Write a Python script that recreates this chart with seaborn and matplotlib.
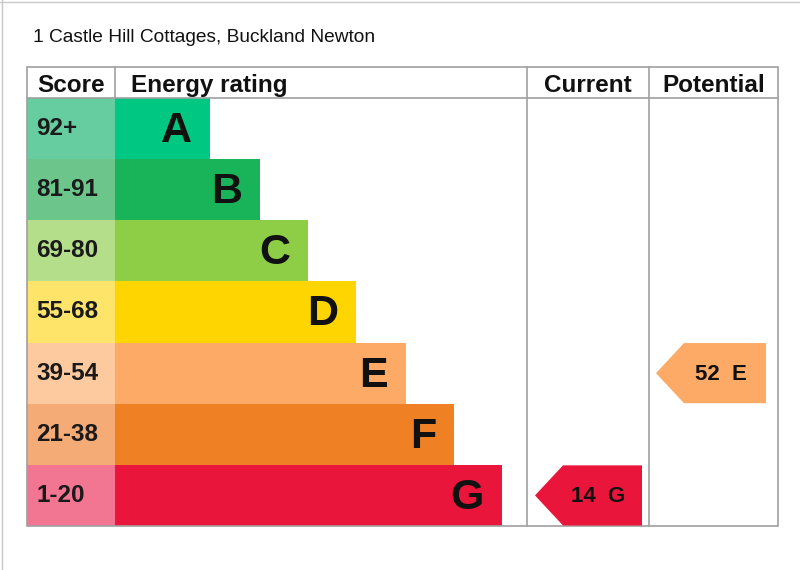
import matplotlib
matplotlib.use("Agg")
import matplotlib.pyplot as plt
from matplotlib.patches import Polygon, Rectangle
import seaborn as sns
import pandas as pd

sns.set_theme(style="white")
plt.rcParams['font.family'] = ['Liberation Sans', 'DejaVu Sans']

title = "1 Castle Hill Cottages, Buckland Newton"
letters = ["A", "B", "C", "D", "E", "F", "G"]
score_labels = ["92+", "81-91", "69-80", "55-68", "39-54", "21-38", "1-20"]
band_low = [92, 81, 69, 55, 39, 21, 1]
bar_lengths = [95, 145, 193, 241, 291, 339, 387]
bar_colors = ["#00c781", "#19b459", "#8dce46", "#ffd500", "#fcaa65", "#ef8023", "#e9153b"]
score_colors = ["#66cda0", "#6cc68c", "#b5de8a", "#ffe46a", "#fdc99e", "#f5ab75", "#f27591"]
current_score = 14
potential_score = 52

W, H = 800, 570
L, R = 27, 778
T, HB, B = 67, 98, 526
SC, BR, CUR = 115, 527, 649

fig = plt.figure(figsize=(8, 5.7), dpi=100)

def px_axes(x0, y0, x1, y1):
    return fig.add_axes([x0 / W, (H - y1) / H, (x1 - x0) / W, (y1 - y0) / H])

df = pd.DataFrame({"letter": letters, "score": score_labels, "length": bar_lengths})

# score column
ax_s = px_axes(L, HB, SC, B)
sns.barplot(data=df, x=[SC - L] * len(letters), y="letter", hue="letter",
            palette=score_colors, saturation=1, width=1.0, legend=False, ax=ax_s, linewidth=0)
ax_s.set_xlim(0, SC - L)
ax_s.set_ylim(6.5, -0.5)
ax_s.axis("off")
for i, s in enumerate(score_labels):
    ax_s.text(9, i, s, ha="left", va="center", fontsize=17.5, fontweight="bold", color="#1a1a1a")

# bars
ax_b = px_axes(SC, HB, BR, B)
sns.barplot(data=df, x="length", y="letter", hue="letter",
            palette=bar_colors, saturation=1, width=1.0, legend=False, ax=ax_b, linewidth=0)
ax_b.set_xlim(0, BR - SC)
ax_b.set_ylim(6.5, -0.5)
ax_b.axis("off")
for i, (l, v) in enumerate(zip(letters, bar_lengths)):
    ax_b.text(v - 18, i + 0.04, l, ha="right", va="center", fontsize=31, fontweight="bold", color="#111111")

# overlay for frame, header, arrows
ax = fig.add_axes([0, 0, 1, 1], facecolor="none")
ax.set_xlim(0, W)
ax.set_ylim(H, 0)
ax.axis("off")

gc = "#a0a0a0"
ax.plot([1.5, 1.5], [0, H], color="#c8c8c8", lw=1)
ax.plot([0, W], [1.5, 1.5], color="#c8c8c8", lw=1)
ax.add_patch(Rectangle((L, T), R - L, B - T, fill=False, edgecolor=gc, lw=1.2))
ax.plot([L, R], [HB, HB], color=gc, lw=1.2)
ax.plot([SC, SC], [T, HB], color=gc, lw=1.2)
ax.plot([BR, BR], [T, B], color=gc, lw=1.2)
ax.plot([CUR, CUR], [T, B], color=gc, lw=1.2)

ax.text(33, 42, title, ha="left", va="baseline", fontsize=13.8, color="#111111")
hy = 92
hs = 17.5
ax.text(37, hy, "Score", ha="left", va="baseline", fontsize=hs, fontweight="bold", color="#111111")
ax.text(131, hy, "Energy rating", ha="left", va="baseline", fontsize=hs, fontweight="bold", color="#111111")
ax.text((BR + CUR) / 2, hy, "Current", ha="center", va="baseline", fontsize=hs, fontweight="bold", color="#111111")
ax.text((CUR + R) / 2, hy, "Potential", ha="center", va="baseline", fontsize=hs, fontweight="bold", color="#111111")

row_h = (B - HB) / len(letters)

def band_index(v):
    for i, lo in enumerate(band_low):
        if v >= lo:
            return i
    return len(band_low) - 1

def arrow(value, x0, x1):
    i = band_index(value)
    y0 = HB + i * row_h + 0.5
    y1 = HB + (i + 1) * row_h - 0.5
    ym = (y0 + y1) / 2
    tip = 28
    poly = Polygon([(x0, ym), (x0 + tip, y0), (x1, y0), (x1, y1), (x0 + tip, y1)],
                   closed=True, facecolor=bar_colors[i], edgecolor="none")
    ax.add_patch(poly)
    ax.text((x0 + tip + x1) / 2 - 4, ym + 1, f"{value}  {letters[i]}", ha="center", va="center",
            fontsize=16, fontweight="bold", color="#111111")

arrow(current_score, BR + 8, CUR - 7)
arrow(potential_score, CUR + 7, R - 12)

fig.savefig("out.png", dpi=100)
